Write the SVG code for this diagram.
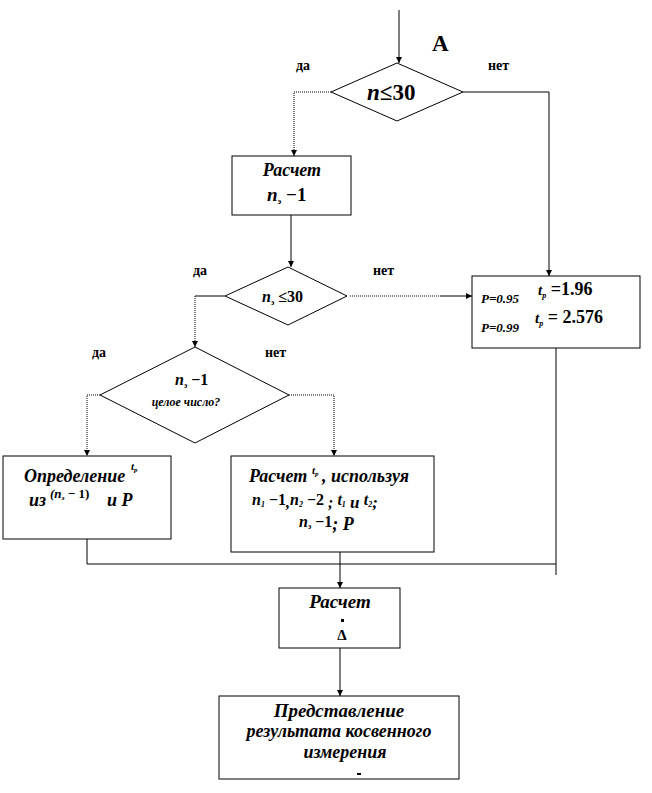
<svg xmlns="http://www.w3.org/2000/svg" width="652" height="793" viewBox="0 0 652 793" font-family="Liberation Serif, DejaVu Serif, serif">
<defs>
<style>
.box{fill:#fff;stroke:#000;stroke-width:1}
.ln{fill:none;stroke:#000;stroke-width:1}
.dt{fill:none;stroke:#000;stroke-width:1;stroke-dasharray:1,1}
text{font-family:'Liberation Serif','DejaVu Serif',serif}
.t{font-weight:bold;font-style:italic;fill:#000}
.r{font-weight:bold;fill:#000}
.lbl{font-weight:bold;font-size:14px;fill:#000}
</style>
<marker id="ar" markerWidth="7" markerHeight="7" refX="6" refY="3.5" orient="auto" markerUnits="userSpaceOnUse">
<path d="M0,0.5 L6,3.5 L0,6.5 Z" fill="#000"/>
</marker>
</defs>
<rect width="652" height="793" fill="#fff"/>

<g id="connectors">
<path class="ln" d="M399,10 V63" marker-end="url(#ar)"/>
<path class="dt" d="M331,92 H294 V156" marker-end="url(#ar)"/>
<path class="ln" d="M463,92 H549 V276" marker-end="url(#ar)"/>
<path class="ln" d="M291,215 V267" marker-end="url(#ar)"/>
<path class="dt" d="M350,296 H440"/>
<path class="ln" d="M440,296 H472" marker-end="url(#ar)"/>
<path class="ln" d="M225,296 H195"/>
<path class="dt" d="M195,296 V347" marker-end="url(#ar)"/>
<path class="dt" d="M100,395 H87 V456" marker-end="url(#ar)"/>
<path class="dt" d="M289,395 H334 V456" marker-end="url(#ar)"/>
<path class="ln" d="M87,539 V564 H556"/>
<path class="ln" d="M556,348 V575"/>
<path class="ln" d="M340,552 V588" marker-end="url(#ar)"/>
<path class="ln" d="M340,648 V696" marker-end="url(#ar)"/>
</g>

<text class="r" x="432" y="51" font-size="23">А</text>

<g id="d1">
<polygon class="box" points="397,63 463,92 397,121 331,92"/>
<text class="t" x="367" y="100" font-size="23">n<tspan font-style="normal">≤30</tspan></text>
<text class="lbl" x="296" y="70">да</text>
<text class="lbl" x="488" y="70">нет</text>
</g>

<g id="b1">
<rect class="box" x="232" y="156" width="119" height="59"/>
<text class="t" x="292" y="176" font-size="18" text-anchor="middle">Расчет</text>
<text class="t" x="267" y="201" font-size="19">n<tspan font-size="9" dy="3">э</tspan><tspan font-style="normal" dy="-3"> −1</tspan></text>
</g>

<g id="d2">
<polygon class="box" points="288,267 347,296 288,325 225,296"/>
<text class="t" x="262" y="302" font-size="16">n<tspan font-size="8" dy="3">э</tspan><tspan font-style="normal" dy="-3"> ≤30</tspan></text>
<text class="lbl" x="193" y="275">да</text>
<text class="lbl" x="373" y="275">нет</text>
</g>

<g id="bp">
<rect class="box" x="472" y="276" width="168" height="72"/>
<text class="t" x="481" y="303" font-size="13">P=0.95</text>
<text class="t" x="538" y="295" font-size="15">t<tspan font-size="8" dy="3">р</tspan><tspan font-style="normal" dy="-3" font-size="18"> =1.96</tspan></text>
<text class="t" x="481" y="332" font-size="13">P=0.99</text>
<text class="t" x="535" y="323" font-size="15">t<tspan font-size="8" dy="3">р</tspan><tspan font-style="normal" dy="-3" font-size="18"> = 2.576</tspan></text>
</g>

<g id="d3">
<polygon class="box" points="195,347 289,395 195,443 100,395"/>
<text class="t" x="175" y="385" font-size="16">n<tspan font-size="8" dy="3">э</tspan><tspan font-style="normal" dy="-3"> −1</tspan></text>
<text class="t" x="186" y="406" font-size="12" text-anchor="middle">целое число?</text>
<text class="lbl" x="92" y="357">да</text>
<text class="lbl" x="265" y="357">нет</text>
</g>

<g id="bl">
<rect class="box" x="3" y="456" width="168" height="83"/>
<text class="t" x="24" y="482" font-size="18">Определение</text>
<text class="t" x="131" y="470" font-size="11">t<tspan font-size="7" dy="2">р</tspan></text>
<text class="t" x="29" y="506" font-size="18">из</text>
<text class="t" x="50" y="498" font-size="13">(<tspan>n</tspan><tspan font-size="7" dy="2">э</tspan><tspan font-style="normal" dy="-2"> − 1)</tspan></text>
<text class="t" x="107" y="506" font-size="18">и P</text>
</g>

<g id="bm">
<rect class="box" x="231" y="456" width="203" height="96"/>
<text class="t" x="249" y="482" font-size="18">Расчет</text>
<text class="t" x="312" y="474" font-size="11">t<tspan font-size="7" dy="2">р</tspan></text>
<text class="t" x="322" y="482" font-size="18">, используя</text>
<text class="t" x="252" y="505" font-size="16">n<tspan font-size="8" dy="2">1</tspan><tspan font-style="normal" dy="-2"> −1</tspan><tspan font-size="16" dy="3">,</tspan><tspan dy="-3">n</tspan><tspan font-size="8" dy="2">2</tspan><tspan font-style="normal" dy="-2"> −2 </tspan><tspan font-size="16" dy="3"> ; </tspan><tspan dy="-3">t</tspan><tspan font-size="8" dy="2">1</tspan><tspan font-size="17" dy="1"> и </tspan><tspan dy="-3">t</tspan><tspan font-size="8" dy="2">2</tspan><tspan font-size="17" dy="1">;</tspan></text>
<text class="t" x="299" y="527" font-size="16">n<tspan font-size="8" dy="2">э</tspan><tspan font-style="normal" dy="-2"> −1</tspan><tspan font-size="18" dy="3">; P</tspan></text>
</g>

<g id="bc">
<rect class="box" x="279" y="588" width="121" height="60"/>
<text class="t" x="340" y="608" font-size="19" text-anchor="middle">Расчет</text>
<rect x="341" y="619" width="3" height="3" fill="#000"/>
<text class="r" x="342" y="640" font-size="15" text-anchor="middle">Δ</text>
</g>

<g id="bb">
<rect class="box" x="219" y="696" width="240" height="83"/>
<text class="t" x="339" y="717" font-size="19" text-anchor="middle">Представление</text>
<text class="t" x="339" y="737" font-size="18" text-anchor="middle">результата косвенного</text>
<text class="t" x="345" y="758" font-size="18" text-anchor="middle">измерения</text>
<rect x="357" y="773" width="4" height="2" fill="#000"/>
</g>
</svg>
